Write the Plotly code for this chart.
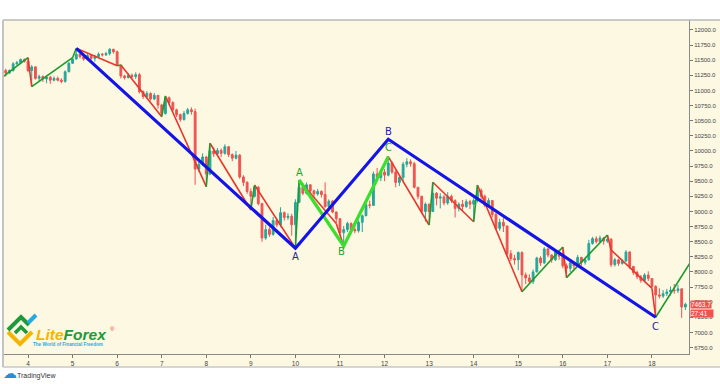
import plotly.graph_objects as go

# ---------------- data ----------------
start_day = 3.5          # time of first 2-hour candle (in days)
per_day = 12             # candles per day
first_open = 11330

closes = [11290, 11330, 11440, 11460, 11510, 11480, 11330, 11390, 11200, 11230, 11190, 11220,
          11170, 11200, 11170, 11150, 11310, 11450, 11520, 11600, 11560, 11520, 11580, 11530,
          11560, 11600, 11590, 11610, 11680, 11640, 11420, 11240, 11210, 11250, 11230, 11260,
          10980, 10900, 10950, 10860, 10920, 10760, 10620, 10880, 10800, 10680, 10600, 10520,
          10620, 10680, 10650, 9700, 9780, 9900, 9620, 10000, 9950, 10010, 9960, 10070,
          9940, 9880, 9930, 9570, 9480, 9330, 9250, 9400, 9130, 8560, 8700, 8620,
          8850, 8780, 8980, 8900, 8920, 8780, 9150, 9400, 9300, 9440, 9340, 9290,
          9330, 9280, 9080, 9170, 8990, 8880, 8650, 8700, 8800, 8700, 8680, 8820,
          8930, 9110, 9100, 9620, 9560, 9650, 9600, 9800, 9650, 9480, 9560, 9780,
          9820, 9790, 9400, 9250, 9000, 9120, 9000, 9300, 9220, 9240, 9140, 9250,
          9180, 9050, 9120, 9080, 9160, 9120, 9180, 9350, 9250, 9100, 9180, 8950,
          8720, 8820, 8760, 8300, 8220, 8200, 8320, 7950, 7900, 7840, 8000, 8230,
          8150, 8380, 8280, 8200, 8330, 8260, 8100, 8060, 8150, 8100, 8240, 8160,
          8200, 8470, 8550, 8500, 8560, 8510, 8540, 8120, 8200, 8140, 8180, 8330,
          8090, 7990, 7920, 7860, 7950, 7890, 7760, 7620, 7600, 7640, 7670, 7700,
          7690, 7720, 7420, 7464]

highs = [11360, 11350, 11470, 11490, 11530, 11530, 11542, 11420, 11400, 11260, 11250, 11250,
         11240, 11230, 11230, 11200, 11330, 11470, 11542, 11697, 11640, 11580, 11610, 11600,
         11590, 11630, 11620, 11640, 11700, 11690, 11660, 11421, 11260, 11290, 11280, 11300,
         11290, 11000, 10990, 10970, 10960, 10920, 10780, 10909, 10900, 10820, 10700, 10620,
         10660, 10710, 10720, 10700, 9850, 9960, 9920, 10127, 10060, 10050, 10040, 10110,
         10080, 9960, 10000, 9950, 9600, 9500, 9380, 9437, 9420, 9140, 8780, 8740,
         8910, 8880, 9070, 9000, 8970, 8960, 9200, 9520, 9460, 9480, 9450, 9360,
         9370, 9350, 9480, 9200, 9190, 9000, 8880, 8760, 8830, 8820, 8760, 8850,
         8950, 9150, 9180, 9660, 9720, 9700, 9700, 9905, 9830, 9680, 9600, 9820,
         9880, 9860, 9820, 9400, 9260, 9150, 9130, 9482, 9320, 9300, 9270, 9320,
         9280, 9200, 9150, 9190, 9200, 9190, 9220, 9437, 9380, 9280, 9220, 9190,
         8980, 8880, 8890, 8760, 8360, 8280, 8340, 8340, 7990, 7960, 8040, 8250,
         8260, 8410, 8400, 8290, 8360, 8370, 8412, 8140, 8180, 8170, 8280, 8250,
         8230, 8530, 8580, 8590, 8600, 8580, 8610, 8560, 8230, 8220, 8210, 8360,
         8340, 8100, 8020, 7950, 7980, 8010, 7900, 7780, 7730, 7700, 7720, 7760,
         7800, 7790, 7730, 7490]

lows = [11230, 11270, 11310, 11420, 11440, 11460, 11300, 11063, 11180, 11150, 11140, 11120,
        11110, 11150, 11150, 11120, 11130, 11300, 11440, 11510, 11530, 11490, 11500, 11500,
        11480, 11540, 11560, 11570, 11580, 11610, 11410, 11200, 11180, 11200, 11200, 11190,
        10950, 10860, 10870, 10830, 10840, 10700, 10567, 10600, 10760, 10650, 10560, 10480,
        10500, 10600, 10600, 9440, 9650, 9750, 9409, 9600, 9900, 9930, 9900, 9940,
        9900, 9830, 9860, 9540, 9420, 9290, 9024, 9230, 9100, 8500, 8530, 8580,
        8600, 8740, 8740, 8850, 8860, 8600, 8391, 9140, 9270, 9280, 9300, 9240,
        9260, 9230, 9060, 9050, 8970, 8810, 8600, 8429, 8660, 8660, 8640, 8650,
        8660, 8920, 9050, 9090, 9540, 9500, 9500, 9580, 9620, 9400, 9420, 9500,
        9730, 9740, 9380, 9200, 8960, 8830, 8776, 8990, 9100, 9050, 9100, 9110,
        9140, 8900, 9000, 9020, 9060, 9040, 8830, 9150, 9200, 9070, 9070, 8900,
        8690, 8680, 8660, 8250, 8180, 8120, 8030, 7673, 7800, 7800, 7800, 7990,
        8100, 8130, 8240, 8150, 8180, 8200, 8060, 7905, 8000, 8030, 8080, 8100,
        8120, 8190, 8450, 8470, 8480, 8450, 8480, 8080, 8090, 8100, 8120, 8170,
        8050, 7950, 7880, 7820, 7830, 7850, 7729, 7250, 7560, 7570, 7600, 7610,
        7640, 7650, 7240, 7370]

# ZigZag indicator pivots (candle index, price)
zz_idx = [-1, 6, 7, 18, 19, 30, 31, 42, 43, 54, 55, 66, 67, 78, 79, 89, 91, 103, 114, 115,
          126, 127, 139, 150, 151, 162, 163, 174, 175, 184.2]
zz_price = [11215, 11542, 11063, 11542, 11697, 11410, 11421, 10567, 10909, 9409, 10127, 9024,
            9437, 8391, 9520, 8800, 8429, 9905, 8776, 9482, 8830, 9437, 7673, 8412, 7905, 8610,
            8363, 7729, 7250, 8143]

# Large ABC pattern (blue) and inner ABC (lime)
abc_idx = [19, 78, 103, 175]
abc_price = [11697, 8391, 10193, 7250]
inner_idx = [79, 91, 103]
inner_price = [9520, 8429, 9905]

# pattern letters: (candle index, price, text)
big_labels_idx = [78, 103, 175]
big_labels_price = [8247, 10322, 7106]
big_labels_text = ["A", "B", "C"]
small_labels_idx = [79, 90.5, 103]
small_labels_price = [9647, 8330, 10049]
small_labels_text = ["A", "B", "C"]

day_ticks = list(range(4, 19))
price_ticks = list(range(6750, 12001, 250))
last_price = 7463.7
countdown = "27:41"

# ---------------- build ----------------
def t(i):
    return start_day + i / per_day

xs = [t(i) for i in range(len(closes))]
opens = [first_open] + closes[:-1]

CREAM = "#FDF8E2"
UP = "#26a69a"
DOWN = "#ef5350"

fig = go.Figure()
fig.add_trace(go.Candlestick(
    x=xs, open=opens, high=highs, low=lows, close=closes,
    increasing=dict(line=dict(color=UP, width=1), fillcolor=UP),
    decreasing=dict(line=dict(color=DOWN, width=1), fillcolor=DOWN),
    hoverinfo="skip", showlegend=False))

up_x, up_y, dn_x, dn_y = [], [], [], []
for k in range(len(zz_idx) - 1):
    x0, x1 = t(zz_idx[k]), t(zz_idx[k + 1])
    y0, y1 = zz_price[k], zz_price[k + 1]
    if y1 >= y0:
        up_x += [x0, x1, None]; up_y += [y0, y1, None]
    else:
        dn_x += [x0, x1, None]; dn_y += [y0, y1, None]

fig.add_trace(go.Scatter(x=dn_x, y=dn_y, mode="lines",
                         line=dict(color="#e8362c", width=1.6), hoverinfo="skip"))
fig.add_trace(go.Scatter(x=up_x, y=up_y, mode="lines",
                         line=dict(color="#1c9a2a", width=1.6), hoverinfo="skip"))
fig.add_trace(go.Scatter(x=[t(i) for i in inner_idx], y=inner_price, mode="lines",
                         line=dict(color="#3ade2c", width=3.2), hoverinfo="skip"))
fig.add_trace(go.Scatter(x=[t(i) for i in abc_idx], y=abc_price, mode="lines",
                         line=dict(color="#1414e6", width=3.2), hoverinfo="skip"))

annotations = []
for i, p, s in zip(big_labels_idx, big_labels_price, big_labels_text):
    annotations.append(dict(x=t(i), y=p, text=s, showarrow=False,
                            font=dict(size=10, color="#1f1f9e", family="DejaVu Sans")))
for i, p, s in zip(small_labels_idx, small_labels_price, small_labels_text):
    annotations.append(dict(x=t(i), y=p, text=s, showarrow=False,
                            font=dict(size=10, color="#1fa51f", family="DejaVu Sans")))

# pixel helpers for decorations (plot area: x 3..689, y 20..354)
def pxx(p):
    return (p - 3) / 686.0

def pxy(p):
    return (354 - p) / 334.0

# last price boxes
annotations.append(dict(xref="paper", yref="y", x=pxx(690), y=last_price, xanchor="left",
                        yanchor="middle", text=str(last_price), showarrow=False, bgcolor=DOWN,
                        borderpad=0, font=dict(size=6.5, color="white", family="Liberation Sans")))
annotations.append(dict(xref="paper", yref="paper", x=pxx(690), y=pxy(313.5), xanchor="left",
                        yanchor="middle", text=countdown + "&nbsp;&nbsp;&nbsp;", showarrow=False,
                        bgcolor=DOWN, borderpad=0,
                        font=dict(size=6.5, color="white", family="Liberation Sans")))

# LiteForex logo text
annotations.append(dict(xref="paper", yref="paper", x=pxx(34), y=pxy(334), xanchor="left",
                        yanchor="middle", showarrow=False,
                        text="<b><i><span style='color:#f5b400'>Lite</span>"
                             "<span style='color:#1c9a3c'>Forex</span></i></b>",
                        font=dict(size=15.5, family="Liberation Sans")))
annotations.append(dict(xref="paper", yref="paper", x=pxx(108), y=pxy(329), xanchor="left",
                        yanchor="middle", showarrow=False, text="®",
                        font=dict(size=6, color="#e04a2a", family="Liberation Sans")))
annotations.append(dict(xref="paper", yref="paper", x=pxx(31), y=pxy(344.5), xanchor="left",
                        yanchor="middle", showarrow=False,
                        text="<b>The World of Financial Freedom</b>",
                        font=dict(size=4.6, color="#29a9e1", family="Liberation Sans")))
# TradingView attribution
annotations.append(dict(xref="paper", yref="paper", x=pxx(1), y=pxy(372.5), xanchor="left",
                        yanchor="middle", showarrow=False, text="☁",
                        font=dict(size=14, color="#2a8bd6", family="DejaVu Sans")))
annotations.append(dict(xref="paper", yref="paper", x=pxx(15), y=pxy(375.5), xanchor="left",
                        yanchor="middle", showarrow=False, text="TradingView",
                        font=dict(size=7, color="#333333", family="Liberation Sans")))

shapes = [
    # cream panel incl. axis zones
    dict(type="rect", xref="paper", yref="paper", x0=0, x1=pxx(720), y0=pxy(367), y1=1,
         fillcolor=CREAM, line=dict(width=0), layer="below"),
    # frame lines
    dict(type="line", xref="paper", yref="paper", x0=0, x1=pxx(720), y0=1, y1=1,
         line=dict(color="#b9b9b9", width=1.5)),
    dict(type="line", xref="paper", yref="paper", x0=0, x1=0, y0=pxy(367), y1=1,
         line=dict(color="#c4c4c4", width=2)),
    dict(type="line", xref="paper", yref="paper", x0=0, x1=pxx(720), y0=pxy(367), y1=pxy(367),
         line=dict(color="#c8c8c8", width=1.5)),
    # logo icon
    dict(type="path", xref="paper", yref="paper",
         path=f"M {pxx(8)},{pxy(332)} L {pxx(20)},{pxy(344)} L {pxx(32)},{pxy(332)}",
         line=dict(color="#f5b400", width=4)),
    dict(type="path", xref="paper", yref="paper",
         path=f"M {pxx(8)},{pxy(330)} L {pxx(21)},{pxy(317)} L {pxx(29)},{pxy(325)}",
         line=dict(color="#1c9a3c", width=4)),
    dict(type="path", xref="paper", yref="paper",
         path=f"M {pxx(15)},{pxy(333)} L {pxx(21)},{pxy(327)} L {pxx(27)},{pxy(333)}",
         line=dict(color="#1c9a3c", width=3.5)),
    dict(type="path", xref="paper", yref="paper",
         path=f"M {pxx(28)},{pxy(323)} L {pxx(36)},{pxy(315)}",
         line=dict(color="#29a9e1", width=4)),
]

fig.update_layout(
    width=720, height=384,
    margin=dict(l=3, r=31, t=20, b=30),
    paper_bgcolor="white", plot_bgcolor=CREAM,
    showlegend=False,
    annotations=annotations, shapes=shapes,
    xaxis=dict(range=[3.439, 18.831], tickvals=day_ticks, ticktext=[str(d) for d in day_ticks],
               ticks="outside", ticklen=3, tickcolor="#777", showgrid=False, zeroline=False,
               showline=True, linecolor="#8a8a8a", linewidth=1,
               tickfont=dict(size=6.5, color="#444", family="Liberation Sans"),
               rangeslider=dict(visible=False), fixedrange=True),
    yaxis=dict(range=[6643, 12165], side="right", tickvals=price_ticks,
               ticktext=[f"{v:.1f}" for v in price_ticks],
               ticks="outside", ticklen=3, tickcolor="#777", showgrid=False, zeroline=False,
               showline=True, linecolor="#8a8a8a", linewidth=1,
               tickfont=dict(size=6, color="#444", family="Liberation Sans"), fixedrange=True),
)

fig.write_html("out.html", config=dict(displayModeBar=False),
               post_script="document.body.style.margin='0';document.body.style.overflow='hidden';")
